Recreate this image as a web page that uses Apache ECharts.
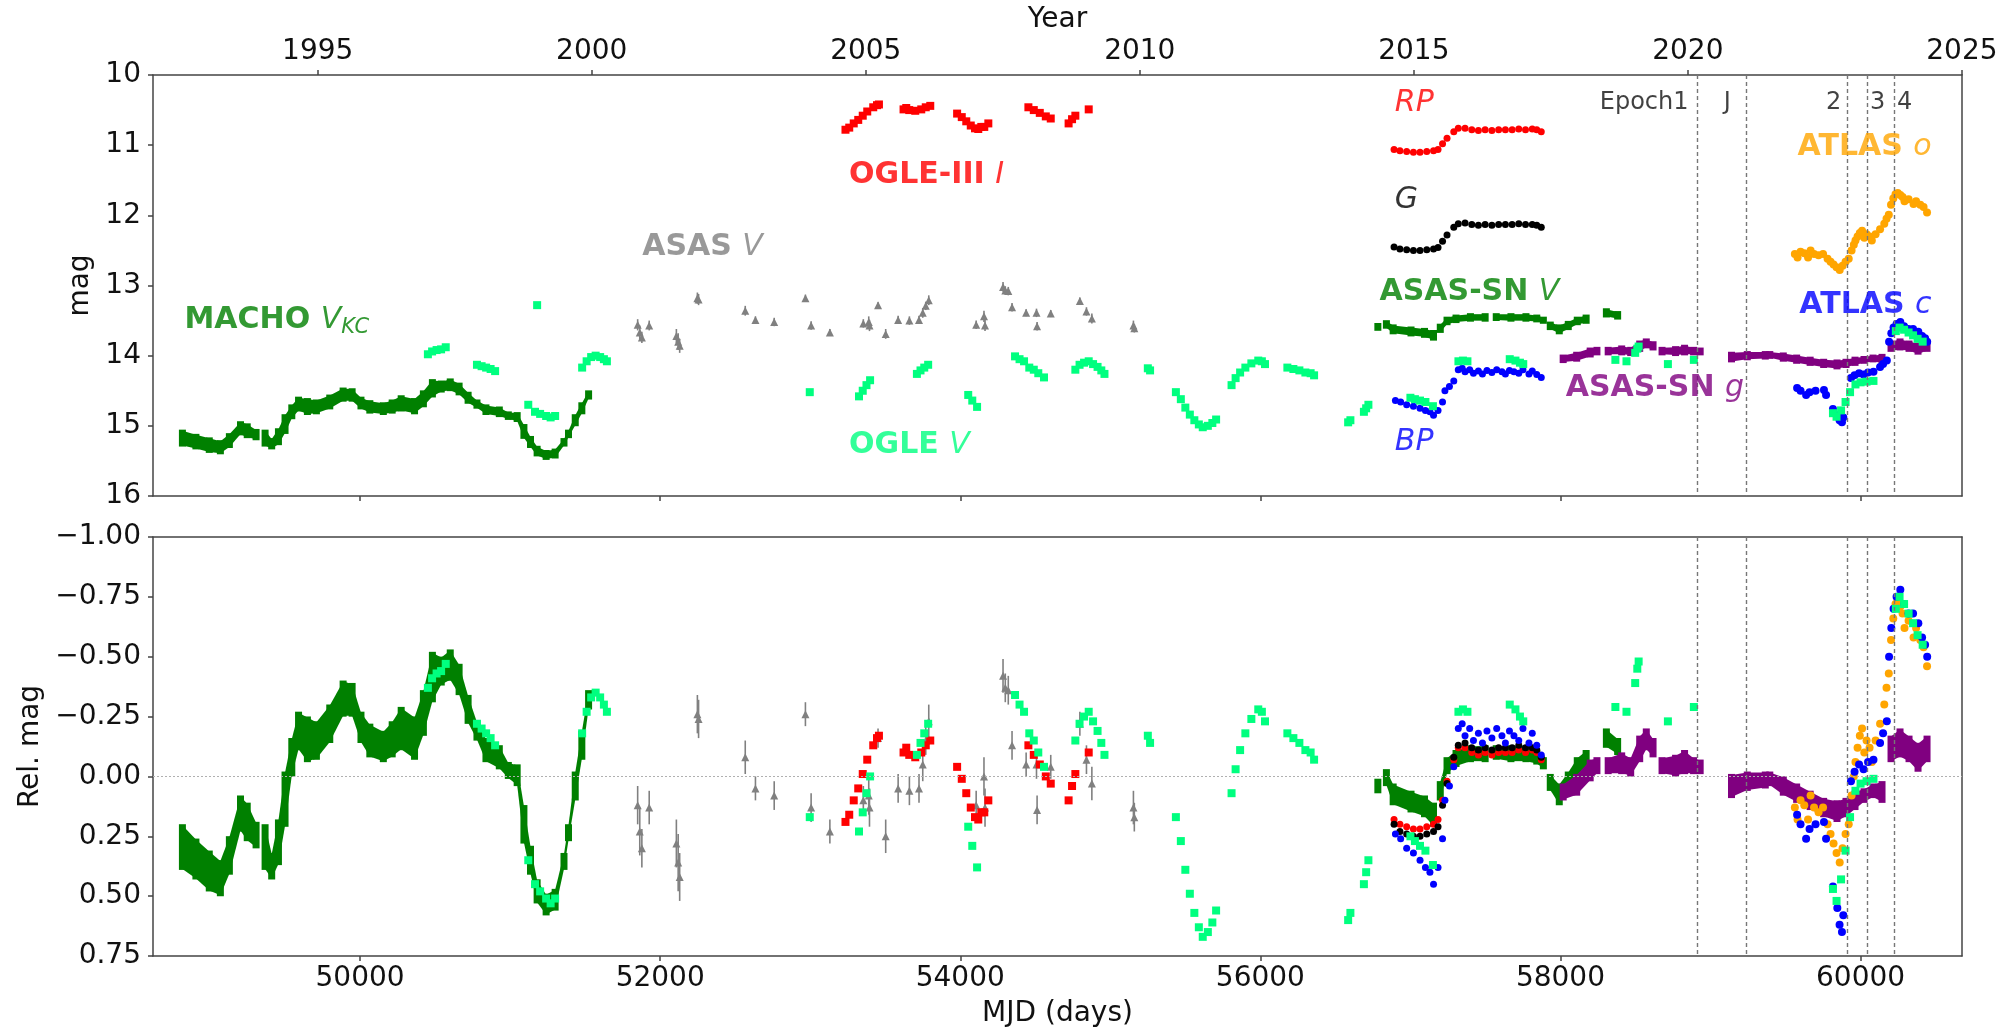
<!DOCTYPE html>
<html>
<head>
<meta charset="utf-8">
<script src="https://cdn.jsdelivr.net/npm/echarts@6/dist/echarts.min.js"></script>
<style>
  html, body { margin: 0; padding: 0; background: #fff; }
  #chart { width: 2004px; height: 1034px; }
</style>
</head>
<body>
<div id="chart"></div>
<script>
// ---------------------------------------------------------------
// Light curves (MJD, magnitude). Dense surveys are stored as bands:
// [MJD, bright edge, faint edge], split into observing seasons.
// ---------------------------------------------------------------
const MACHO_V = [
  [[48816, 15.09, 15.26], [48906, 15.15, 15.30], [48995, 15.20, 15.35], [49069, 15.24, 15.37],
   [49129, 15.14, 15.28], [49203, 14.97, 15.10], [49248, 15.00, 15.14], [49307, 15.08, 15.17]],
  [[49367, 15.09, 15.26], [49411, 15.21, 15.30], [49456, 15.07, 15.24], [49500, 14.87, 15.08],
   [49545, 14.73, 14.87], [49590, 14.62, 14.76], [49649, 14.64, 14.81], [49709, 14.66, 14.80],
   [49798, 14.59, 14.73], [49887, 14.49, 14.62], [49947, 14.50, 14.62], [50006, 14.62, 14.73],
   [50065, 14.67, 14.79], [50155, 14.70, 14.81], [50214, 14.66, 14.79], [50274, 14.60, 14.76],
   [50363, 14.64, 14.80], [50422, 14.53, 14.70], [50482, 14.37, 14.56], [50541, 14.39, 14.49],
   [50601, 14.36, 14.47], [50660, 14.42, 14.53], [50720, 14.55, 14.65], [50779, 14.66, 14.72],
   [50839, 14.73, 14.81], [50928, 14.76, 14.84], [50988, 14.83, 14.88], [51047, 14.84, 14.91],
   [51092, 15.01, 15.15], [51136, 15.18, 15.28], [51180, 15.32, 15.40], [51240, 15.38, 15.45],
   [51300, 15.36, 15.43], [51359, 15.21, 15.26], [51389, 15.09, 15.14], [51434, 14.87, 14.97],
   [51478, 14.70, 14.80], [51523, 14.53, 14.59]]
];

const ASASSN_V = [
  [[56783, 13.57, 13.61]],
  [[56840, 13.53, 13.58], [56885, 13.59, 13.66], [57004, 13.62, 13.69], [57094, 13.64, 13.71], [57154, 13.67, 13.75]],
  [[57199, 13.58, 13.64], [57244, 13.48, 13.53], [57304, 13.45, 13.50], [57400, 13.43, 13.48], [57498, 13.43, 13.48]],
  [[57572, 13.43, 13.47], [57670, 13.43, 13.48], [57770, 13.43, 13.48], [57842, 13.45, 13.49], [57886, 13.48, 13.51]],
  [[57932, 13.55, 13.60], [57992, 13.59, 13.66], [58052, 13.54, 13.60], [58112, 13.48, 13.53], [58171, 13.45, 13.51]],
  [[58306, 13.36, 13.42], [58381, 13.40, 13.45]]
];

const ASASSN_G = [
  [[58018, 14.02, 14.07], [58108, 13.98, 14.05], [58198, 13.92, 13.99], [58243, 13.91, 13.96]],
  [[58318, 13.91, 13.96], [58408, 13.89, 13.96], [58468, 13.91, 13.97], [58528, 13.82, 13.91],
   [58572, 13.79, 13.86], [58617, 13.83, 13.89]],
  [[58677, 13.91, 13.96], [58767, 13.90, 13.97], [58827, 13.88, 13.96], [58887, 13.91, 13.96], [58931, 13.92, 13.96]],
  [[59140, 13.98, 14.06], [59245, 13.97, 14.03], [59365, 13.97, 14.02], [59395, 13.97, 14.01],
   [59485, 13.99, 14.05], [59574, 14.02, 14.08], [59664, 14.05, 14.11], [59754, 14.08, 14.14],
   [59843, 14.09, 14.16], [59903, 14.08, 14.14], [59963, 14.05, 14.11], [60023, 14.04, 14.08],
   [60083, 14.02, 14.06], [60143, 14.01, 14.08]],
  [[60203, 13.82, 13.91], [60263, 13.79, 13.89], [60323, 13.82, 13.91], [60383, 13.85, 13.95], [60443, 13.82, 13.91]]
];

const OGLE_V = [
  [50452, 13.98], [50480, 13.94], [50510, 13.92], [50540, 13.91], [50571, 13.88],
  [50779, 14.13], [50810, 14.15], [50840, 14.17], [50870, 14.19], [50900, 14.22],
  [51121, 14.70], [51166, 14.80], [51200, 14.83], [51240, 14.86], [51270, 14.88], [51300, 14.86], [51180, 13.28],
  [51480, 14.17], [51510, 14.08], [51540, 14.02], [51570, 14.00], [51600, 14.02], [51625, 14.05], [51645, 14.08],
  [52997, 14.52],
  [53325, 14.58], [53350, 14.50], [53375, 14.42], [53399, 14.35],
  [53711, 14.26], [53735, 14.21], [53760, 14.17], [53786, 14.13],
  [54053, 14.56], [54080, 14.64], [54112, 14.73],
  [54365, 14.01], [54395, 14.05], [54425, 14.08], [54460, 14.17], [54490, 14.20], [54520, 14.25], [54558, 14.31],
  [54767, 14.20], [54795, 14.13], [54825, 14.10], [54856, 14.08], [54885, 14.12], [54915, 14.16], [54940, 14.21], [54961, 14.26],
  [55250, 14.18], [55265, 14.21],
  [55437, 14.52], [55470, 14.62], [55500, 14.74], [55530, 14.84], [55560, 14.92], [55590, 14.98], [55616, 15.02],
  [55650, 15.00], [55680, 14.96], [55705, 14.91],
  [55808, 14.42], [55835, 14.32], [55865, 14.24], [55900, 14.17], [55940, 14.11], [55986, 14.07], [56010, 14.08], [56031, 14.12],
  [56180, 14.17], [56220, 14.19], [56260, 14.21], [56300, 14.24], [56335, 14.25], [56358, 14.28],
  [56585, 14.95], [56600, 14.92], [56690, 14.80], [56705, 14.75], [56720, 14.70],
  [57000, 14.60], [57030, 14.62], [57064, 14.64], [57100, 14.66], [57150, 14.72],
  [57320, 14.08], [57350, 14.07], [57380, 14.08],
  [57662, 14.05], [57700, 14.07], [57730, 14.10], [57752, 14.12],
  [58366, 14.06], [58440, 14.08], [58498, 13.96], [58512, 13.90], [58521, 13.87], [58716, 14.12], [58889, 14.06],
  [59816, 14.82], [59840, 14.87], [59870, 14.78], [59900, 14.66], [59930, 14.52], [59966, 14.41], [60000, 14.38],
  [60040, 14.37], [60086, 14.36],
  [60235, 13.65], [60260, 13.60], [60290, 13.63], [60320, 13.67], [60350, 13.71], [60380, 13.76], [60414, 13.80]
];

// [MJD, mag, error]
const ASAS_V = [
  [51850, 13.56, 0.08], [51864, 13.67, 0.10], [51878, 13.74, 0.08], [51927, 13.57, 0.07],
  [52108, 13.72, 0.10], [52120, 13.80, 0.12], [52130, 13.86, 0.10],
  [52248, 13.18, 0.08], [52256, 13.20, 0.08],
  [52567, 13.36, 0.07], [52635, 13.49, 0.05], [52760, 13.52, 0.06], [52968, 13.18, 0.05],
  [53006, 13.57, 0.06], [53131, 13.67, 0.05],
  [53354, 13.54, 0.06], [53390, 13.52, 0.08], [53395, 13.57, 0.08], [53452, 13.28, 0.04],
  [53503, 13.69, 0.07], [53586, 13.49, 0.06], [53661, 13.50, 0.06],
  [53725, 13.49, 0.06], [53750, 13.39, 0.07], [53770, 13.29, 0.06], [53790, 13.21, 0.07],
  [54106, 13.56, 0.06], [54158, 13.44, 0.08], [54165, 13.57, 0.08],
  [54285, 13.02, 0.07], [54300, 13.07, 0.06], [54320, 13.08, 0.06], [54345, 13.31, 0.06],
  [54439, 13.39, 0.05], [54508, 13.39, 0.06], [54512, 13.58, 0.06], [54603, 13.40, 0.05],
  [54797, 13.22, 0.05], [54841, 13.37, 0.06], [54877, 13.47, 0.07], [55154, 13.57, 0.07], [55160, 13.61, 0.06]
];

const OGLE3_I = [
  [53235, 10.78], [53260, 10.75], [53290, 10.69], [53320, 10.64], [53350, 10.58], [53380, 10.52], [53420, 10.46], [53445, 10.43], [53458, 10.42],
  [53622, 10.49], [53640, 10.47], [53660, 10.50], [53700, 10.51], [53740, 10.49], [53770, 10.46], [53800, 10.44],
  [53979, 10.55], [54010, 10.60], [54040, 10.66], [54070, 10.72], [54098, 10.76], [54120, 10.77], [54140, 10.74], [54160, 10.74], [54187, 10.69],
  [54454, 10.46], [54490, 10.50], [54530, 10.54], [54570, 10.59], [54603, 10.62],
  [54722, 10.69], [54745, 10.63], [54767, 10.58],
  [54856, 10.49]
];

const GAIA_RP = [
  [56891, 11.06], [56930, 11.08], [56975, 11.09], [57020, 11.10], [57064, 11.10], [57109, 11.09], [57154, 11.08],
  [57184, 11.06], [57214, 10.98], [57244, 10.90], [57289, 10.81], [57319, 10.76], [57364, 10.76], [57409, 10.78],
  [57453, 10.79], [57498, 10.78], [57543, 10.79], [57588, 10.78], [57633, 10.78], [57678, 10.78], [57722, 10.77],
  [57767, 10.78], [57812, 10.77], [57842, 10.78], [57872, 10.81]
];
const GAIA_G = [
  [56891, 12.45], [56930, 12.48], [56975, 12.49], [57020, 12.50], [57064, 12.50], [57109, 12.49], [57154, 12.48],
  [57184, 12.46], [57214, 12.37], [57244, 12.28], [57289, 12.17], [57319, 12.12], [57364, 12.11], [57409, 12.13],
  [57453, 12.14], [57498, 12.13], [57543, 12.14], [57588, 12.13], [57633, 12.13], [57678, 12.13], [57722, 12.12],
  [57767, 12.13], [57812, 12.13], [57842, 12.14], [57872, 12.17]
];
const GAIA_BP = [
  [56900, 14.64], [56935, 14.66], [56975, 14.70], [57020, 14.72], [57064, 14.75], [57100, 14.78], [57130, 14.80],
  [57154, 14.85], [57184, 14.78], [57214, 14.66], [57230, 14.50], [57260, 14.44], [57289, 14.36], [57319, 14.20],
  [57345, 14.18], [57364, 14.23], [57395, 14.20], [57420, 14.25], [57453, 14.22], [57480, 14.26], [57510, 14.21],
  [57543, 14.24], [57575, 14.20], [57610, 14.23], [57633, 14.26], [57660, 14.21], [57690, 14.23], [57722, 14.25],
  [57750, 14.20], [57790, 14.26], [57812, 14.22], [57842, 14.27], [57872, 14.31]
];

const ATLAS_O = [
  [59562, 12.55], [59580, 12.60], [59600, 12.52], [59625, 12.54], [59650, 12.60], [59667, 12.50], [59690, 12.55],
  [59720, 12.57], [59750, 12.55], [59780, 12.62], [59800, 12.66], [59820, 12.70], [59840, 12.74], [59861, 12.78],
  [59880, 12.72], [59900, 12.66], [59921, 12.62], [59940, 12.50], [59955, 12.42], [59966, 12.36], [59980, 12.30],
  [59995, 12.25], [60010, 12.22], [60025, 12.32], [60040, 12.27], [60060, 12.30], [60075, 12.36], [60100, 12.27],
  [60130, 12.20], [60158, 12.12], [60173, 12.05], [60188, 11.99], [60203, 11.85], [60218, 11.76], [60233, 11.70],
  [60248, 11.68], [60265, 11.71], [60280, 11.74], [60293, 11.80], [60320, 11.77], [60353, 11.84], [60370, 11.80],
  [60398, 11.85], [60420, 11.88], [60443, 11.96]
];
const ATLAS_C = [
  [59577, 14.46], [59600, 14.50], [59637, 14.56], [59660, 14.52], [59700, 14.50], [59756, 14.49], [59770, 14.56],
  [59816, 14.76], [59845, 14.85], [59860, 14.92], [59876, 14.95], [59885, 14.88],
  [59936, 14.32], [59960, 14.28], [59990, 14.25], [60020, 14.27], [60050, 14.24], [60086, 14.23],
  [60130, 14.16], [60150, 14.12], [60175, 14.07],
  [60190, 13.80], [60205, 13.68], [60220, 13.60], [60240, 13.55], [60265, 13.52], [60290, 13.58], [60320, 13.62],
  [60350, 13.62], [60385, 13.66], [60410, 13.72], [60430, 13.75], [60444, 13.80]
];

// Mean magnitude of each light curve, subtracted for the relative panel
const MEAN_MAG = {
  machoV: 14.88, ogleV: 14.35, asasV: 13.44, ogle3I: 10.59, rp: 10.88, g: 12.25,
  bp: 14.40, asassnV: 13.55, asassnG: 13.98, atlasO: 12.42, atlasC: 14.30
};

// Marked epochs (MJD)
const EPOCH_NAMES = ['Epoch1', 'J', '2', '3', '4'];
const EPOCH_MJD = [58912, 59235, 59912, 60044, 60222];

// Axis ticks
const MJD_TICKS = [50000, 52000, 54000, 56000, 58000, 60000];
const YEAR_TICKS = [1995, 2000, 2005, 2010, 2015, 2020, 2025];

// ---------------------------------------------------------------
const FONT = "'DejaVu Sans', 'Liberation Sans', sans-serif";
const MJD_MIN = 48620, MJD_MAX = 60676;
const AXIS_COLOR = '#444';
const COL = {
  green: '#008000', spring: '#00FF7F', gray: '#808080', red: '#FF0000', black: '#000000',
  blue: '#0000FF', purple: '#800080', orange: '#FFA500'
};

const yearToMjd = y => 51544 + (y - 2000) * 365.25;
const mjdToYear = m => Math.round(2000 + (m - 51544) / 365.25);
const YEAR_TICK_MJD = YEAR_TICKS.map(yearToMjd);

const flatBand = segs => {
  const out = [];
  segs.forEach((s, k) => s.forEach(p => out.push([p[0], p[1], p[2], k])));
  return out;
};
const relPts = (pts, ref) => pts.map(p => [p[0], +(p[1] - ref).toFixed(3)].concat(p.slice(2)));
const relBand = (arr, ref) => arr.map(p => [p[0], +(p[1] - ref).toFixed(3), +(p[2] - ref).toFixed(3), p[3]]);

// Filled band between consecutive epochs of one season
function bandRenderer(arr, color, pad, mark) {
  return function (params, api) {
    const i = params.dataIndex, cur = arr[i], nxt = arr[i + 1];
    const p1 = api.coord([cur[0], cur[1]]), p2 = api.coord([cur[0], cur[2]]);
    const t1 = Math.min(p1[1], p2[1]) - pad, b1 = Math.max(p1[1], p2[1]) + pad;
    const kids = [{ type: 'rect', shape: { x: p1[0] - mark / 2, y: t1 - 1, width: mark, height: b1 - t1 + 2 }, style: { fill: color } }];
    if (nxt && nxt[3] === cur[3]) {
      const q1 = api.coord([nxt[0], nxt[1]]), q2 = api.coord([nxt[0], nxt[2]]);
      const t2 = Math.min(q1[1], q2[1]) - pad, b2 = Math.max(q1[1], q2[1]) + pad;
      kids.push({ type: 'polygon', shape: { points: [[p1[0], t1], [q1[0], t2], [q1[0], b2], [p1[0], b1]] }, style: { fill: color } });
    }
    return { type: 'group', children: kids };
  };
}

function errRenderer(arr, color) {
  return function (params, api) {
    const d = arr[params.dataIndex];
    const a = api.coord([d[0], d[1] - d[2]]), b = api.coord([d[0], d[1] + d[2]]);
    return { type: 'line', shape: { x1: a[0], y1: a[1], x2: b[0], y2: b[1] }, style: { stroke: color, lineWidth: 1.6 } };
  };
}

function panelSeries(xi, yi, rel) {
  const P = (pts, key) => rel ? relPts(pts, MEAN_MAG[key]) : pts;
  const B = (segs, key) => rel ? relBand(flatBand(segs), MEAN_MAG[key]) : flatBand(segs);
  const pad = rel ? 1.5 : 1.5;
  const base = { xAxisIndex: xi, yAxisIndex: yi, animation: false, silent: true };
  const band = (segs, key, color) => {
    const d = B(segs, key);
    return Object.assign({ type: 'custom', data: d, encode: { x: 0, y: [1, 2] }, renderItem: bandRenderer(d, color, pad, 7) }, base);
  };
  const sc = (pts, key, color, symbol, size) => Object.assign({
    type: 'scatter', data: P(pts, key), symbol: symbol, symbolSize: size,
    itemStyle: { color: color, opacity: 1 }, clip: true
  }, base);
  const asas = P(ASAS_V, 'asasV');
  return [
    band(MACHO_V, 'machoV', COL.green),
    band(ASASSN_V, 'asassnV', COL.green),
    band(ASASSN_G, 'asassnG', COL.purple),
    Object.assign({ type: 'custom', data: asas, encode: { x: 0, y: 1 }, renderItem: errRenderer(asas, COL.gray) }, base),
    sc(ASAS_V, 'asasV', COL.gray, 'triangle', 8),
    sc(OGLE3_I, 'ogle3I', COL.red, 'rect', 8),
    sc(GAIA_RP, 'rp', COL.red, 'circle', 7),
    sc(GAIA_G, 'g', COL.black, 'circle', 7),
    sc(GAIA_BP, 'bp', COL.blue, 'circle', 7),
    sc(ATLAS_O, 'atlasO', COL.orange, 'circle', 8),
    sc(ATLAS_C, 'atlasC', COL.blue, 'circle', 8),
    sc(OGLE_V, 'ogleV', COL.spring, 'rect', 8),
    Object.assign({
      type: 'line', data: [], markLine: {
        silent: true, symbol: ['none', 'none'], label: { show: false },
        lineStyle: { color: '#777', width: 1.4, type: [4, 3] },
        data: EPOCH_MJD.map(m => ({ xAxis: m }))
      }
    }, base)
  ];
}

// Survey / band annotations in the magnitude panel
function rich(color) {
  return {
    b: { fontFamily: FONT, fontWeight: 'bold', fontSize: 30, color: color, lineHeight: 36 },
    i: { fontFamily: FONT, fontStyle: 'italic', fontSize: 30, color: color, lineHeight: 36 },
    s: { fontFamily: FONT, fontStyle: 'italic', fontSize: 21, color: color, lineHeight: 22, verticalAlign: 'bottom' }
  };
}
const ANNOTATIONS = [
  { at: [48830, 13.49], text: '{b|MACHO }{i|V}{s|KC}', color: COL.green },
  { at: [51880, 12.45], text: '{b|ASAS }{i|V}', color: COL.gray },
  { at: [53259, 11.43], text: '{b|OGLE-III }{i|I}', color: COL.red },
  { at: [53259, 15.27], text: '{b|OGLE }{i|V}', color: COL.spring },
  { at: [56896, 10.40], text: '{i|RP}', color: COL.red },
  { at: [56896, 11.78], text: '{i|G}', color: COL.black },
  { at: [56794, 13.09], text: '{b|ASAS-SN }{i|V}', color: COL.green },
  { at: [56896, 15.24], text: '{i|BP}', color: COL.blue },
  { at: [58035, 14.46], text: '{b|ASAS-SN }{i|g}', color: COL.purple },
  { at: [59580, 11.03], text: '{b|ATLAS }{i|o}', color: COL.orange },
  { at: [59592, 13.28], text: '{b|ATLAS }{i|c}', color: COL.blue }
];
const EPOCH_LABEL_AT = [[58262, 10.40], [59088, 10.40], [59770, 10.40], [60063, 10.40], [60243, 10.40]];

const annotationSeries = {
  type: 'scatter', xAxisIndex: 0, yAxisIndex: 0, symbolSize: 0, silent: true, animation: false, z: 20,
  data: ANNOTATIONS.map(a => ({
    value: a.at,
    label: { show: true, position: 'right', distance: 0, formatter: a.text, rich: rich(a.color) }
  })).concat(EPOCH_NAMES.map((n, k) => ({
    value: EPOCH_LABEL_AT[k],
    label: { show: true, position: 'right', distance: 0, formatter: n, fontFamily: FONT, fontSize: 24, color: '#111' }
  })))
};

const zeroLine = {
  type: 'line', xAxisIndex: 2, yAxisIndex: 2, data: [], silent: true, animation: false,
  markLine: {
    silent: true, symbol: ['none', 'none'], label: { show: false },
    lineStyle: { color: '#b0b0b0', width: 1, type: [2, 2] }, data: [{ yAxis: 0 }]
  }
};

const lineStyle = { color: AXIS_COLOR, width: 1.5 };
const tickStyle = { color: AXIS_COLOR, width: 1.5 };
const labelStyle = { fontFamily: FONT, fontSize: 28, color: '#111' };
const nameStyle = { fontFamily: FONT, fontSize: 28, color: '#111' };

const option = {
  backgroundColor: '#fff',
  animation: false,
  grid: [
    { left: 153, right: 42, top: 75, height: 421 },
    { left: 153, right: 42, top: 537, height: 419 }
  ],
  xAxis: [
    { gridIndex: 0, type: 'value', position: 'bottom', min: MJD_MIN, max: MJD_MAX,
      axisLine: { show: true, onZero: false, lineStyle }, splitLine: { show: false },
      axisTick: { show: true, inside: false, length: 5, lineStyle: tickStyle, customValues: MJD_TICKS },
      axisLabel: { show: false, customValues: MJD_TICKS } },
    { gridIndex: 0, type: 'value', position: 'top', min: MJD_MIN, max: MJD_MAX,
      axisLine: { show: true, onZero: false, lineStyle }, splitLine: { show: false },
      axisTick: { show: true, inside: false, length: 5, lineStyle: tickStyle, customValues: YEAR_TICK_MJD },
      axisLabel: Object.assign({ show: true, margin: 9, hideOverlap: false, customValues: YEAR_TICK_MJD,
        formatter: v => String(mjdToYear(v)) }, labelStyle),
      name: 'Year', nameLocation: 'middle', nameGap: 41, nameTextStyle: nameStyle },
    { gridIndex: 1, type: 'value', position: 'bottom', min: MJD_MIN, max: MJD_MAX,
      axisLine: { show: true, onZero: false, lineStyle }, splitLine: { show: false },
      axisTick: { show: true, inside: false, length: 5, lineStyle: tickStyle, customValues: MJD_TICKS },
      axisLabel: Object.assign({ show: true, margin: 9, hideOverlap: false, customValues: MJD_TICKS,
        formatter: v => String(v) }, labelStyle),
      name: 'MJD (days)', nameLocation: 'middle', nameGap: 44, nameTextStyle: nameStyle },
    { gridIndex: 1, type: 'value', position: 'top', min: MJD_MIN, max: MJD_MAX,
      axisLine: { show: true, onZero: false, lineStyle }, splitLine: { show: false },
      axisTick: { show: false }, axisLabel: { show: false } }
  ],
  yAxis: [
    { gridIndex: 0, type: 'value', position: 'left', inverse: true, min: 10, max: 16, interval: 1,
      axisLine: { show: true, onZero: false, lineStyle }, splitLine: { show: false },
      axisTick: { show: true, inside: false, length: 5, lineStyle: tickStyle },
      axisLabel: Object.assign({ margin: 12 }, labelStyle),
      name: 'mag', nameLocation: 'middle', nameGap: 54, nameTextStyle: nameStyle },
    { gridIndex: 0, type: 'value', position: 'right', inverse: true, min: 10, max: 16,
      axisLine: { show: true, onZero: false, lineStyle }, splitLine: { show: false },
      axisTick: { show: false }, axisLabel: { show: false } },
    { gridIndex: 1, type: 'value', position: 'left', inverse: true, min: -1, max: 0.75, interval: 0.25,
      axisLine: { show: true, onZero: false, lineStyle }, splitLine: { show: false },
      axisTick: { show: true, inside: false, length: 5, lineStyle: tickStyle },
      axisLabel: Object.assign({ margin: 12,
        formatter: v => (v < 0 ? '\u2212' : '') + Math.abs(v).toFixed(2) }, labelStyle),
      name: 'Rel. mag', nameLocation: 'middle', nameGap: 108, nameTextStyle: nameStyle },
    { gridIndex: 1, type: 'value', position: 'right', inverse: true, min: -1, max: 0.75,
      axisLine: { show: true, onZero: false, lineStyle }, splitLine: { show: false },
      axisTick: { show: false }, axisLabel: { show: false } }
  ],
  series: [zeroLine]
    .concat(panelSeries(0, 0, false))
    .concat(panelSeries(2, 2, true))
    .concat([annotationSeries])
};

const chart = echarts.init(document.getElementById('chart'), null, { renderer: 'canvas' });
chart.setOption(option);
</script>
</body>
</html>
